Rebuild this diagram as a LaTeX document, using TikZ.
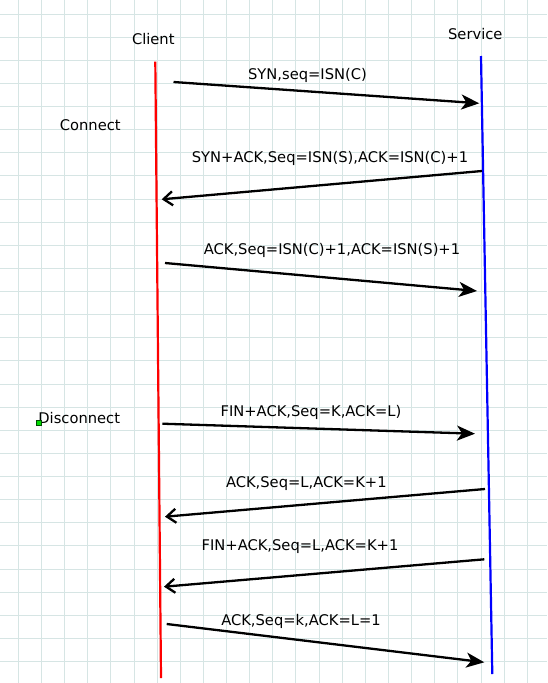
\documentclass[tikz,border=0pt]{standalone}
\usepackage{fontspec}
\setmainfont{DejaVu Sans}
\usetikzlibrary{arrows.meta}
\definecolor{gridc}{RGB}{214,229,228}
\definecolor{boxgreen}{RGB}{0,220,0}
\begin{document}
\begin{tikzpicture}[x=1pt,y=-1pt,
  lbl/.style={anchor=base, font=\fontsize{14.7}{17}\selectfont, inner sep=0pt},
  gridline/.style={draw=gridc, line width=1pt},
  msgf/.style={line width=2.3pt, -{Stealth[length=18pt,width=15pt,inset=5pt]}},
  msgo/.style={line width=2.3pt, -{Straight Barb[length=9pt,width=14pt]}},
  lifeline/.style={line width=2.2pt}
]
\fill[white] (0,0) rectangle (547,683);
\useasboundingbox (0,0) rectangle (547,683);
\foreach \i in {0,...,22} \draw[gridline] ({18.4+23.13*\i},0) -- ({18.4+23.13*\i},683);
\foreach \i in {0,...,28} \draw[gridline] (0,{14+23.13*\i}) -- (547,{14+23.13*\i});

% lifelines
\coordinate (ct) at (155.3,61.7);
\coordinate (cb) at (161,678);
\coordinate (st) at (481,56);
\coordinate (sb) at (492.3,674);
\draw[lifeline, red] (ct) -- (cb);
\draw[lifeline, blue] (st) -- (sb);

% titles
\node[lbl] (client) at (153.3,44.3) {Client};
\node[lbl] (service) at (475.3,39.3) {Service};
\node[lbl] (connect) at (90.3,130) {Connect};
\node[lbl] (disconnect) at (79.2,423.3) {Disconnect};
\node[draw=black!70!green, fill=boxgreen, minimum size=5pt, inner sep=0pt, line width=0.8pt] (mark) at (38.5,423.3) {};

% messages
\coordinate (a1) at (173.5,82);   \coordinate (b1) at (479.3,103.3);
\coordinate (a2) at (482,171);    \coordinate (b2) at (161.7,199.3);
\coordinate (a3) at (165,263);    \coordinate (b3) at (477,291);
\coordinate (a4) at (162.3,423.7);\coordinate (b4) at (475,433.7);
\coordinate (a5) at (485,489);    \coordinate (b5) at (165,516.7);
\coordinate (a6) at (484.3,559.3);\coordinate (b6) at (164,586.7);
\coordinate (a7) at (166.7,624);  \coordinate (b7) at (484.3,662.3);

\draw[msgf] (a1) -- (b1);
\draw[msgo] (a2) -- (b2);
\draw[msgf] (a3) -- (b3);
\draw[msgf] (a4) -- (b4);
\draw[msgo] (a5) -- (b5);
\draw[msgo] (a6) -- (b6);
\draw[msgf] (a7) -- (b7);

\node[lbl] (l1) at (307.5,79.3) {SYN,seq=ISN(C)};
\node[lbl] (l2) at (330,162.5) {SYN+ACK,Seq=ISN(S),ACK=ISN(C)+1};
\node[lbl] (l3) at (332,254.5) {ACK,Seq=ISN(C)+1,ACK=ISN(S)+1};
\node[lbl] (l4) at (311,416.5) {FIN+ACK,Seq=K,ACK=L)};
\node[lbl] (l5) at (306.3,487.3) {ACK,Seq=L,ACK=K+1};
\node[lbl] (l6) at (300,550) {FIN+ACK,Seq=L,ACK=K+1};
\node[lbl] (l7) at (301,625.5) {ACK,Seq=k,ACK=L=1};
\end{tikzpicture}
\end{document}
